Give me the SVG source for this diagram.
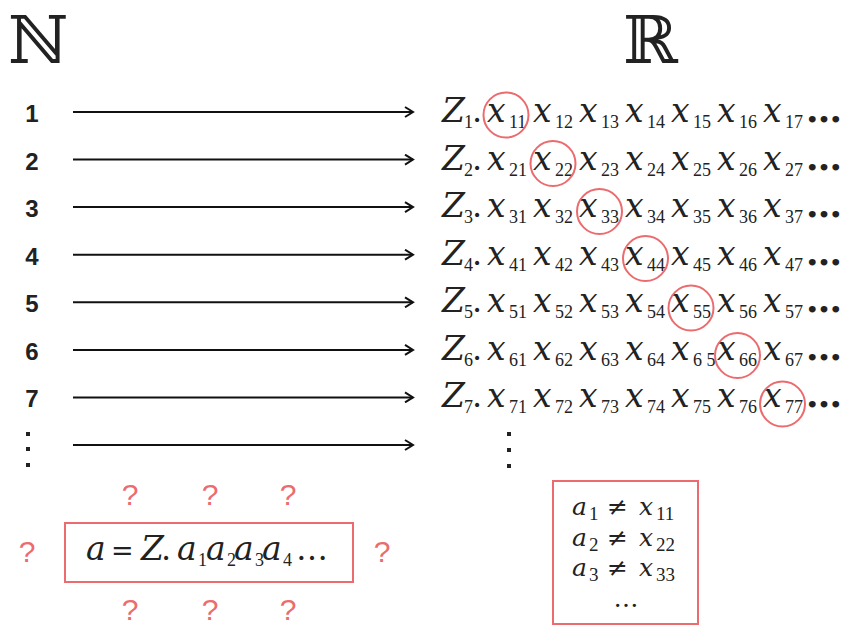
<svg xmlns="http://www.w3.org/2000/svg" width="844" height="626" viewBox="0 0 844 626">
<defs>
<style>
.bg{fill:#fff}
.m{font-family:"DejaVu Serif","Liberation Serif",serif;font-style:italic;font-size:33px;fill:#222}
.mu{font-family:"DejaVu Serif","Liberation Serif",serif;font-size:32px;fill:#222}
.eq{font-family:"DejaVu Serif","Liberation Serif",serif;font-size:27px;fill:#222}
.s{font-family:"Liberation Serif","DejaVu Serif",serif;font-size:18px;fill:#222}
.n{font-family:"Liberation Sans",Arial,sans-serif;font-weight:bold;font-size:24px;fill:#222;text-anchor:middle}
.q{font-family:"Liberation Sans",Arial,sans-serif;font-size:30px;fill:#EB6B6E;text-anchor:middle}
.c{fill:none;stroke:#EB6B6E;stroke-width:2}
.box{fill:none;stroke:#EB6B6E;stroke-width:2}
.ar{stroke:#111;stroke-width:2;fill:none}
.dt{fill:#222}
.hd{font-family:"DejaVu Serif","DejaVu Sans",serif;font-size:66px;fill:#222}
.el{font-family:"DejaVu Serif",serif;font-weight:bold;font-size:36px;fill:#222}
.m2{font-family:"DejaVu Serif","Liberation Serif",serif;font-style:italic;font-size:25px;fill:#222}
.s2{font-family:"Liberation Serif","DejaVu Serif",serif;font-size:19px;fill:#222}
.u2{font-family:"DejaVu Serif","Liberation Serif",serif;font-size:25px;fill:#222}
</style>
<marker id="ah" markerWidth="12" markerHeight="12" refX="9" refY="6" orient="auto" markerUnits="userSpaceOnUse">
<path d="M1,1 L9,6 L1,11" fill="none" stroke="#111" stroke-width="2"/>
</marker>
</defs>
<rect class="bg" x="0" y="0" width="844" height="626"/>

<g id="header-N"><text class="hd" x="8" y="63">ℕ</text></g>
<g id="header-R"><text class="hd" x="623" y="63">ℝ</text></g>

<g id="connectors">
<line class="ar" x1="73" y1="112" x2="413" y2="112" marker-end="url(#ah)"/>
<line class="ar" x1="73" y1="159.6" x2="413" y2="159.6" marker-end="url(#ah)"/>
<line class="ar" x1="73" y1="207.1" x2="413" y2="207.1" marker-end="url(#ah)"/>
<line class="ar" x1="73" y1="254.7" x2="413" y2="254.7" marker-end="url(#ah)"/>
<line class="ar" x1="73" y1="302.3" x2="413" y2="302.3" marker-end="url(#ah)"/>
<line class="ar" x1="73" y1="349.9" x2="413" y2="349.9" marker-end="url(#ah)"/>
<line class="ar" x1="73" y1="397.4" x2="413" y2="397.4" marker-end="url(#ah)"/>
<line class="ar" x1="73" y1="445" x2="413" y2="445" marker-end="url(#ah)"/>
</g>

<g id="naturals">
<text class="n" x="32" y="122">1</text>
<text class="n" x="32" y="169.6">2</text>
<text class="n" x="32" y="217.1">3</text>
<text class="n" x="32" y="264.7">4</text>
<text class="n" x="32" y="312.3">5</text>
<text class="n" x="32" y="359.9">6</text>
<text class="n" x="32" y="407.4">7</text>
<rect class="dt" x="26" y="432" width="4" height="4"/>
<rect class="dt" x="26" y="447" width="4" height="4"/>
<rect class="dt" x="26" y="463" width="4" height="4"/>
</g>

<g id="row1">
<text class="m" x="442" y="122">Z</text><text class="s" x="464" y="128">1</text><text class="mu" x="472" y="122">.</text>
<text class="m" x="487" y="122">x</text><text class="s" x="509" y="128">11</text>
<text class="m" x="533" y="122">x</text><text class="s" x="555" y="128">12</text>
<text class="m" x="579" y="122">x</text><text class="s" x="601" y="128">13</text>
<text class="m" x="625" y="122">x</text><text class="s" x="647" y="128">14</text>
<text class="m" x="671" y="122">x</text><text class="s" x="693" y="128">15</text>
<text class="m" x="717" y="122">x</text><text class="s" x="739" y="128">16</text>
<text class="m" x="763" y="122">x</text><text class="s" x="785" y="128">17</text>
<text class="el" x="806" y="122">…</text>
<circle class="c" cx="506" cy="115" r="22.5"/>
</g>

<g id="row2">
<text class="m" x="442" y="169.6">Z</text><text class="s" x="464" y="175.6">2</text><text class="mu" x="472" y="169.6">.</text>
<text class="m" x="487" y="169.6">x</text><text class="s" x="509" y="175.6">21</text>
<text class="m" x="533" y="169.6">x</text><text class="s" x="555" y="175.6">22</text>
<text class="m" x="579" y="169.6">x</text><text class="s" x="601" y="175.6">23</text>
<text class="m" x="625" y="169.6">x</text><text class="s" x="647" y="175.6">24</text>
<text class="m" x="671" y="169.6">x</text><text class="s" x="693" y="175.6">25</text>
<text class="m" x="717" y="169.6">x</text><text class="s" x="739" y="175.6">26</text>
<text class="m" x="763" y="169.6">x</text><text class="s" x="785" y="175.6">27</text>
<text class="el" x="806" y="169.6">…</text>
<circle class="c" cx="553" cy="163.5" r="22.5"/>
</g>

<g id="row3">
<text class="m" x="442" y="217.1">Z</text><text class="s" x="464" y="223.1">3</text><text class="mu" x="472" y="217.1">.</text>
<text class="m" x="487" y="217.1">x</text><text class="s" x="509" y="223.1">31</text>
<text class="m" x="533" y="217.1">x</text><text class="s" x="555" y="223.1">32</text>
<text class="m" x="579" y="217.1">x</text><text class="s" x="601" y="223.1">33</text>
<text class="m" x="625" y="217.1">x</text><text class="s" x="647" y="223.1">34</text>
<text class="m" x="671" y="217.1">x</text><text class="s" x="693" y="223.1">35</text>
<text class="m" x="717" y="217.1">x</text><text class="s" x="739" y="223.1">36</text>
<text class="m" x="763" y="217.1">x</text><text class="s" x="785" y="223.1">37</text>
<text class="el" x="806" y="217.1">…</text>
<circle class="c" cx="599.5" cy="211.5" r="22.5"/>
</g>

<g id="row4">
<text class="m" x="442" y="264.7">Z</text><text class="s" x="464" y="270.7">4</text><text class="mu" x="472" y="264.7">.</text>
<text class="m" x="487" y="264.7">x</text><text class="s" x="509" y="270.7">41</text>
<text class="m" x="533" y="264.7">x</text><text class="s" x="555" y="270.7">42</text>
<text class="m" x="579" y="264.7">x</text><text class="s" x="601" y="270.7">43</text>
<text class="m" x="625" y="264.7">x</text><text class="s" x="647" y="270.7">44</text>
<text class="m" x="671" y="264.7">x</text><text class="s" x="693" y="270.7">45</text>
<text class="m" x="717" y="264.7">x</text><text class="s" x="739" y="270.7">46</text>
<text class="m" x="763" y="264.7">x</text><text class="s" x="785" y="270.7">47</text>
<text class="el" x="806" y="264.7">…</text>
<circle class="c" cx="645.5" cy="258.5" r="22.5"/>
</g>

<g id="row5">
<text class="m" x="442" y="312.3">Z</text><text class="s" x="464" y="318.3">5</text><text class="mu" x="472" y="312.3">.</text>
<text class="m" x="487" y="312.3">x</text><text class="s" x="509" y="318.3">51</text>
<text class="m" x="533" y="312.3">x</text><text class="s" x="555" y="318.3">52</text>
<text class="m" x="579" y="312.3">x</text><text class="s" x="601" y="318.3">53</text>
<text class="m" x="625" y="312.3">x</text><text class="s" x="647" y="318.3">54</text>
<text class="m" x="671" y="312.3">x</text><text class="s" x="693" y="318.3">55</text>
<text class="m" x="717" y="312.3">x</text><text class="s" x="739" y="318.3">56</text>
<text class="m" x="763" y="312.3">x</text><text class="s" x="785" y="318.3">57</text>
<text class="el" x="806" y="312.3">…</text>
<circle class="c" cx="691" cy="308" r="22.5"/>
</g>

<g id="row6">
<text class="m" x="442" y="359.9">Z</text><text class="s" x="464" y="365.9">6</text><text class="mu" x="472" y="359.9">.</text>
<text class="m" x="487" y="359.9">x</text><text class="s" x="509" y="365.9">61</text>
<text class="m" x="533" y="359.9">x</text><text class="s" x="555" y="365.9">62</text>
<text class="m" x="579" y="359.9">x</text><text class="s" x="601" y="365.9">63</text>
<text class="m" x="625" y="359.9">x</text><text class="s" x="647" y="365.9">64</text>
<text class="m" x="671" y="359.9">x</text><text class="s" x="693" y="365.9">6 5</text>
<text class="m" x="717" y="359.9">x</text><text class="s" x="739" y="365.9">66</text>
<text class="m" x="763" y="359.9">x</text><text class="s" x="785" y="365.9">67</text>
<text class="el" x="806" y="359.9">…</text>
<circle class="c" cx="737.5" cy="355.5" r="22.5"/>
</g>

<g id="row7">
<text class="m" x="442" y="407.4">Z</text><text class="s" x="464" y="413.4">7</text><text class="mu" x="472" y="407.4">.</text>
<text class="m" x="487" y="407.4">x</text><text class="s" x="509" y="413.4">71</text>
<text class="m" x="533" y="407.4">x</text><text class="s" x="555" y="413.4">72</text>
<text class="m" x="579" y="407.4">x</text><text class="s" x="601" y="413.4">73</text>
<text class="m" x="625" y="407.4">x</text><text class="s" x="647" y="413.4">74</text>
<text class="m" x="671" y="407.4">x</text><text class="s" x="693" y="413.4">75</text>
<text class="m" x="717" y="407.4">x</text><text class="s" x="739" y="413.4">76</text>
<text class="m" x="763" y="407.4">x</text><text class="s" x="785" y="413.4">77</text>
<text class="el" x="806" y="407.4">…</text>
<circle class="c" cx="782.5" cy="404" r="22.5"/>
</g>

<g id="reals-dots">
<rect class="dt" x="507" y="432" width="4" height="4"/>
<rect class="dt" x="507" y="448" width="4" height="4"/>
<rect class="dt" x="507" y="464" width="4" height="4"/>
</g>

<g id="diagonal-number">
<rect class="box" x="65" y="523" width="288" height="59"/>
<text class="m" x="86" y="560">a</text>
<text class="eq" x="111" y="560">=</text>
<text class="m" x="141" y="560">Z</text>
<text class="mu" x="161" y="560">.</text>
<text class="m" x="177" y="560">a</text><text class="s" x="198" y="566">1</text>
<text class="m" x="206" y="560">a</text><text class="s" x="227" y="566">2</text>
<text class="m" x="234" y="560">a</text><text class="s" x="255" y="566">3</text>
<text class="m" x="262" y="560">a</text><text class="s" x="283" y="566">4</text>
<text class="mu" x="296" y="560">…</text>
</g>

<g id="questions">
<text class="q" x="130" y="505">?</text>
<text class="q" x="210" y="505">?</text>
<text class="q" x="288" y="505">?</text>
<text class="q" x="27" y="562">?</text>
<text class="q" x="382" y="562">?</text>
<text class="q" x="130" y="620">?</text>
<text class="q" x="210" y="620">?</text>
<text class="q" x="288" y="620">?</text>
</g>

<g id="inequalities">
<rect class="box" x="553" y="481" width="145" height="143"/>
<text class="m2" x="572" y="515">a</text><text class="s2" x="589" y="520">1</text>
<text class="u2" x="607" y="515">≠</text>
<text class="m2" x="639" y="515">x</text><text class="s2" x="656" y="520">11</text>
<text class="m2" x="572" y="546">a</text><text class="s2" x="589" y="551">2</text>
<text class="u2" x="607" y="546">≠</text>
<text class="m2" x="639" y="546">x</text><text class="s2" x="656" y="551">22</text>
<text class="m2" x="572" y="576">a</text><text class="s2" x="589" y="581">3</text>
<text class="u2" x="607" y="576">≠</text>
<text class="m2" x="639" y="576">x</text><text class="s2" x="656" y="581">33</text>
<text class="u2" x="626" y="607" text-anchor="middle">…</text>
</g>
</svg>
